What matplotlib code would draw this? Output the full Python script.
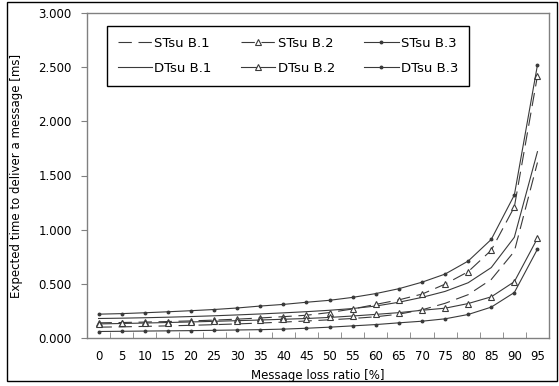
import matplotlib
matplotlib.use("Agg")
import matplotlib.pyplot as plt
from matplotlib.patches import Rectangle
import numpy as np

categories = [0, 5, 10, 15, 20, 25, 30, 35, 40, 45, 50, 55, 60, 65, 70, 75, 80, 85, 90, 95]

st_b1 = [0.10, 0.103, 0.107, 0.112, 0.117, 0.123, 0.130, 0.138, 0.147, 0.157, 0.168, 0.180, 0.196, 0.220, 0.260, 0.320, 0.400, 0.540, 0.800, 1.620]
st_b2 = [0.14, 0.143, 0.147, 0.152, 0.158, 0.165, 0.174, 0.185, 0.197, 0.210, 0.235, 0.268, 0.310, 0.352, 0.405, 0.497, 0.612, 0.810, 1.210, 2.420]
st_b3 = [0.22, 0.225, 0.233, 0.242, 0.252, 0.263, 0.277, 0.295, 0.310, 0.330, 0.348, 0.375, 0.410, 0.455, 0.515, 0.590, 0.710, 0.910, 1.320, 2.520]
dt_b1 = [0.18, 0.183, 0.187, 0.192, 0.198, 0.205, 0.213, 0.222, 0.232, 0.243, 0.256, 0.272, 0.295, 0.330, 0.375, 0.430, 0.510, 0.650, 0.930, 1.720]
dt_b2 = [0.13, 0.134, 0.138, 0.143, 0.148, 0.154, 0.160, 0.166, 0.173, 0.180, 0.190, 0.203, 0.218, 0.234, 0.256, 0.275, 0.318, 0.380, 0.520, 0.920]
dt_b3 = [0.06, 0.062, 0.064, 0.066, 0.068, 0.071, 0.074, 0.077, 0.082, 0.090, 0.100, 0.112, 0.124, 0.140, 0.155, 0.177, 0.217, 0.285, 0.420, 0.820]

labels = ["STsu B.1", "DTsu B.1", "STsu B.2", "DTsu B.2", "STsu B.3", "DTsu B.3"]
series = [st_b1, dt_b1, st_b2, dt_b2, st_b3, dt_b3]
yticks = [0.0, 0.5, 1.0, 1.5, 2.0, 2.5, 3.0]

plt.rcParams['font.family'] = ['DejaVu Sans']

fig = plt.figure(figsize=(5.59, 3.86), dpi=100)
fig.patch.set_facecolor('white')
fig.patches.append(Rectangle((7/559, 1 - 381/386), 550/559, 379/386, transform=fig.transFigure,
                             fill=False, edgecolor='black', linewidth=1.0))

ax = fig.add_axes([87/559, 1 - 338/386, (549 - 87)/559, (338 - 13)/386])
x = np.arange(len(categories))
lc = '#3a3a3a'
styles = [
    dict(linestyle=(0, (12, 6)), marker=None),
    dict(linestyle='-', marker=None),
    dict(linestyle=(0, (12, 6)), marker='^', markersize=5, markerfacecolor='white', markeredgecolor=lc, markeredgewidth=0.8),
    dict(linestyle='-', marker='^', markersize=5, markerfacecolor='white', markeredgecolor=lc, markeredgewidth=0.8),
    dict(linestyle='-', marker='o', markersize=1.8, markerfacecolor=lc, markeredgecolor=lc),
    dict(linestyle='-', marker='o', markersize=1.8, markerfacecolor=lc, markeredgecolor=lc),
]
handles = []
for lab, ys, st in zip(labels, series, styles):
    h, = ax.plot(x, ys, color=lc, linewidth=0.8, label=lab, **st)
    handles.append(h)

ax.set_xlim(-0.5, len(categories) - 0.5)
ax.set_ylim(0, 3.0)
ax.set_yticks(yticks)
ax.set_yticklabels([f"{v:.3f}" for v in yticks])
ax.set_xticks(x)
ax.set_xticklabels([str(c) for c in categories])
ax.set_xticks(np.arange(0.5, len(categories) - 1, 1.0), minor=True)
ax.tick_params(axis='x', which='major', length=0, labelsize=8.5, pad=9)
ax.tick_params(axis='x', which='minor', direction='in', length=4, color='#808080')
ax.tick_params(axis='y', which='major', direction='out', length=4, color='#808080', labelsize=8.5, pad=7)
for s in ax.spines.values():
    s.set_color('#808080')
    s.set_linewidth(1.0)

ax.set_xlabel("Message loss ratio [%]", fontsize=8.5, labelpad=4)
ax.set_ylabel("Expected time to deliver a message [ms]", fontsize=8.5, labelpad=11)

leg = ax.legend(handles=handles, ncol=3, loc='upper left', bbox_to_anchor=(20/462, 1 - 13/325),
                borderaxespad=0,
                fontsize=9.5, frameon=True, fancybox=False, edgecolor='black', framealpha=1,
                handlelength=2.6, columnspacing=2.2, handletextpad=0.2, borderpad=0.8, labelspacing=0.95)
leg.get_frame().set_linewidth(1.0)

fig.savefig("out.png", dpi=100, facecolor='white')
